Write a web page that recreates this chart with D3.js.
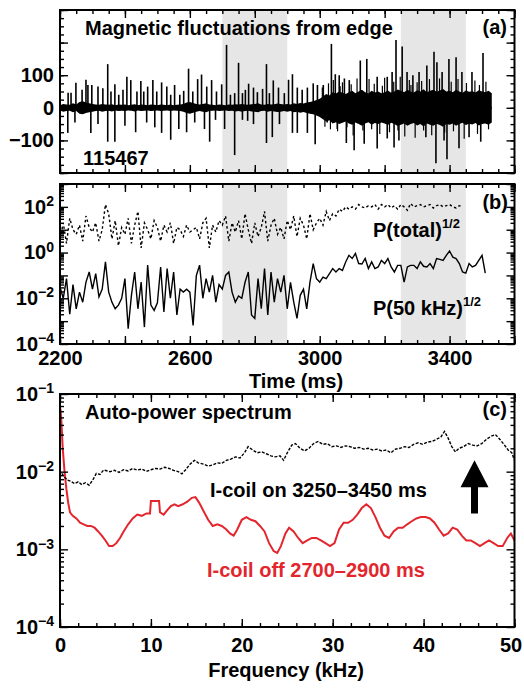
<!DOCTYPE html>
<html>
<head>
<meta charset="utf-8">
<script src="https://cdn.jsdelivr.net/npm/d3@7"></script>
<style>
  body { margin: 0; background: #fff; }
  svg { display: block; }
  text { font-family: "Liberation Sans", Arial, Helvetica, sans-serif; font-weight: bold; }
</style>
</head>
<body>
<div id="chart"></div>
<script>
// ---- data ----
// shaded time windows (ms)
const bandStart = [2700, 3250];
const bandEnd = [2900, 3450];

// (a) magnetic fluctuation spikes (time ms, amplitude)
const upTime = [2225, 2234, 2249, 2268, 2280, 2286, 2298, 2317, 2332, 2347, 2357, 2369, 2381, 2394, 2406, 2418, 2437, 2449, 2458, 2470,
  2486, 2498, 2513, 2529, 2541, 2553, 2569, 2581, 2596, 2609, 2624, 2636, 2652, 2667, 2682, 2698, 2713, 2725, 2738, 2750,
  2762, 2771, 2781, 2796, 2808, 2824, 2836, 2845, 2857, 2873, 2891, 2904, 2916, 2931, 2946, 2962, 2980, 2993, 3011, 3036,
  3048, 3060, 3076, 3091, 3125, 3145, 3177, 3208, 3223, 3235, 3254, 3269, 3287, 3306, 3330, 3352, 3361, 3377, 3398, 3420,
  3438, 3469, 3503];
const upValue = [46, 46, 77, 55, 86, 70, 70, 65, 60, 134, 50, 72, 40, 55, 95, 85, 50, 82, 50, 65,
  85, 50, 78, 65, 40, 70, 40, 52, 120, 50, 88, 102, 65, 85, 50, 72, 193, 40, 45, 138,
  45, 55, 74, 62, 48, 58, 134, 45, 84, 62, 45, 86, 103, 62, 55, 62, 75, 70, 70, 196,
  103, 100, 90, 85, 145, 150, 95, 95, 110, 208, 188, 110, 100, 110, 130, 172, 140, 110, 150, 155,
  110, 110, 168];
const downTime = [2224, 2246, 2295, 2317, 2347, 2369, 2400, 2433, 2467, 2492, 2513, 2541, 2566, 2590, 2615,
  2645, 2661, 2679, 2707, 2738, 2762, 2778, 2796, 2836, 2854, 2876, 2916, 2931, 2962, 2986,
  3023, 3054, 3082, 3106, 3137, 3177, 3208, 3229, 3244, 3327, 3358, 3383, 3392, 3429, 3460, 3496];
const downValue = [-77, -45, -77, -50, -104, -104, -55, -75, -45, -60, -77, -98, -65, -75, -45,
  -65, -104, -37, -65, -145, -37, -40, -50, -108, -90, -50, -77, -77, -77, -112,
  -45, -65, -108, -130, -110, -125, -94, -122, -100, -90, -170, -100, -158, -124, -90, -104];
// smaller bursts sticking out of the dense band after 3000 ms
const burstTime = [3008, 3016, 3027, 3033, 3042, 3055, 3063, 3070, 3084, 3097, 3103, 3115, 3133, 3152, 3160,
  3168, 3185, 3193, 3200, 3215, 3228, 3241, 3248, 3262, 3276, 3281, 3294, 3300, 3314, 3320,
  3338, 3345, 3369, 3385, 3405, 3412, 3426, 3445, 3452, 3478, 3486, 3492, 3512, 3520];
const burstValue = [62, -58, 75, -66, 85, -72, 66, 78, -60, 72, -85, 90, -70, 88, -66,
  74, -80, 68, 92, -75, 80, -70, 95, -88, 85, 70, -92, 78, 82, -70,
  88, -84, 90, -76, 80, -72, 88, -95, 76, 84, -80, 70, 80, -66];
// envelope of the dense background signal, every 10 ms from 2200
const noiseStart = 2200;
const noiseAmp = [8, 12, 10, 9, 14, 10, 18, 20, 16, 14,
  12, 10, 9, 12, 10, 9, 11, 8, 10, 9,
  10, 8, 9, 11, 8, 10, 9, 8, 10, 9,
  8, 10, 9, 8, 10, 8, 9, 10, 12, 16,
  18, 15, 12, 10, 12, 14, 10, 9, 8, 10,
  9, 8, 10, 9, 11, 10, 12, 10, 9, 11,
  12, 14, 10, 9, 12, 10, 11, 13, 12, 10,
  12, 10, 14, 12, 15, 13, 16, 18, 20, 24,
  28, 35, 42, 38, 48, 44, 50, 46, 42, 48,
  52, 45, 50, 55, 48, 44, 52, 47, 50, 45,
  48, 53, 46, 50, 56, 52, 48, 55, 50, 47,
  54, 50, 57, 48, 52, 55, 49, 53, 58, 50,
  52, 48, 55, 50, 46, 53, 49, 51, 47, 54,
  50, 48, 52, 45];

// (b) log10 of P(total)^1/2 and P(50 kHz)^1/2, every 10 ms from 2200
const powerStart = 2200;
const pTotalExp = [0.6, 1.3, 0.4, 1.5, 1.0, 0.8, 1.2, 0.5, 1.6, 1.1,
  0.9, 1.3, 0.5, 1.0, 2.1, 1.7, 0.6, 1.4, 0.3, 1.1,
  0.8, 1.5, 0.4, 1.2, 1.8, 0.2, 1.3, 1.0, 0.6, 1.4,
  1.1, 0.5, 1.2, 0.9, 1.3, 0.4, 1.1, 1.0, 0.7, 1.2,
  0.9, 1.0, 1.1, 0.6, 1.3, 1.5, 0.2, 1.2, 0.9, 1.4,
  1.2, 1.6, 0.5, 1.3, 0.9, 1.4, 0.6, 1.7, 1.0, 0.4,
  1.3, 0.7, 1.1, 1.8, 0.5, 1.2, 1.5, 0.8, 1.1, 0.6,
  1.4, 1.0, 1.6, 0.7, 1.5, 1.2, 0.6, 1.7, 1.0, 1.3,
  1.5, 1.2, 1.8, 1.4, 1.7, 1.6, 1.9, 1.8, 2.0, 1.9,
  2.0, 1.9, 2.1, 2.0, 1.95, 2.05, 2.0, 2.1, 1.9, 2.1,
  2.0, 2.1, 1.95, 2.05, 1.9, 2.1, 2.0, 1.85, 2.15, 2.0,
  2.05, 2.1, 2.0, 2.05, 2.1, 1.95, 2.05, 2.1, 2.0, 2.05,
  2.1, 2.0, 1.95, 2.05, 2.0];
const p50Exp = [-1.5, -2.0, -1.14, -2.7, -1.4, -2.46, -1.73, -2.17, -1.29, -0.85,
  -1.6, -0.92, -1.94, -1.6, -0.41, -1.73, -2.17, -2.46, -2.3, -2.0,
  -1.14, -3.33, -1.87, -0.85, -2.46, -1.29, -3.26, -0.55, -2.3, -2.53,
  -2.2, -0.63, -2.6, -0.7, -2.0, -0.85, -2.73, -1.6, -1.73, -1.6,
  -1.73, -3.19, -1.0, -0.55, -2.0, -1.14, -1.73, -1.0, -2.17, -1.4,
  -1.6, -1.0, -0.85, -1.73, -2.17, -1.9, -2.0, -1.3, -0.85, -2.73,
  -2.88, -1.14, -2.46, -0.7, -2.73, -0.85, -2.17, -1.14, -1.73, -1.0,
  -2.46, -1.3, -2.17, -2.88, -1.87, -1.6, -2.46, -1.29, -0.48, -1.14,
  -1.29, -1.07, -1.14, -0.92, -0.7, -0.85, -0.7, -0.78, -0.41, -0.12,
  -0.26, -0.04, -0.48, -0.5, -0.26, -0.7, -0.41, -0.7, -0.63, -0.34,
  -0.48, -0.26, -0.63, -0.85, -0.56, -0.56, -1.29, -0.63, -0.56, -0.56,
  -0.7, -0.41, -0.6, -0.63, -0.48, -0.7, -0.26, -0.3, -0.34, -0.12,
  0.07, -0.2, -0.26, -0.48, -0.85, -0.9, -0.48, -0.63, -0.56, -0.34,
  -0.12, -0.9];

// (c) auto-power spectra (kHz, power)
const onFreq = [0.2, 0.5, 0.8, 1.2, 1.6, 2.0, 2.4, 2.8, 3.2, 3.6, 4.0, 4.4, 4.8, 5.5, 6.0, 6.5, 7.0, 7.5, 8.0, 8.5,
  9.0, 9.5, 10.0, 10.5, 11.0, 11.5, 12.0, 12.5, 13.0, 13.4, 13.8, 14.3, 14.8, 15.2, 15.8, 16.3, 16.8, 17.3, 17.8, 18.3,
  18.8, 19.3, 19.8, 20.3, 20.7, 21.2, 21.7, 22.2, 22.7, 23.2, 23.7, 24.2, 24.6, 25.0, 25.5, 25.9, 26.4, 26.9, 27.4, 27.9,
  28.4, 28.9, 29.4, 29.9, 30.4, 30.9, 31.4, 31.9, 32.4, 32.9, 33.4, 33.9, 34.4, 34.9, 35.4, 35.9, 36.4, 36.9, 37.4, 37.9,
  38.4, 38.9, 39.4, 39.9, 40.4, 40.9, 41.4, 41.9, 42.3, 42.7, 43.1, 43.5, 43.9, 44.4, 44.9, 45.4, 45.9, 46.4, 46.9, 47.4,
  47.9, 48.4, 48.9, 49.3, 49.7, 50.0];
const onPower = [0.0095, 0.0085, 0.0078, 0.0075, 0.0070, 0.0074, 0.0068, 0.0072, 0.0067, 0.0078, 0.0095, 0.0092, 0.0105, 0.0100, 0.0104, 0.0098, 0.0106, 0.0102, 0.0110, 0.0105,
  0.0108, 0.0101, 0.0106, 0.0110, 0.0108, 0.0114, 0.0110, 0.0104, 0.0100, 0.0094, 0.0105, 0.0125, 0.0140, 0.0130, 0.0125, 0.0118, 0.0122, 0.0130, 0.0128, 0.0140,
  0.0145, 0.0155, 0.0150, 0.0175, 0.0210, 0.0190, 0.0175, 0.0180, 0.0170, 0.0160, 0.0155, 0.0160, 0.0140, 0.0175, 0.0220, 0.0230, 0.0200, 0.0185, 0.0200, 0.0230,
  0.0245, 0.0225, 0.0230, 0.0210, 0.0215, 0.0205, 0.0215, 0.0210, 0.0200, 0.0205, 0.0195, 0.0200, 0.0190, 0.0195, 0.0185, 0.0190, 0.0175, 0.0195, 0.0200, 0.0210,
  0.0205, 0.0225, 0.0235, 0.0225, 0.0240, 0.0245, 0.0260, 0.0280, 0.0330, 0.0270, 0.0210, 0.0180, 0.0200, 0.0210, 0.0230, 0.0220, 0.0215, 0.0230, 0.0260, 0.0285,
  0.0300, 0.0260, 0.0220, 0.0190, 0.0175, 0.0140];
const offFreq = [0.05, 0.15, 0.3, 0.5, 0.7, 0.9, 1.1, 1.4, 1.8, 2.2, 2.6, 3.0, 3.4, 3.8, 4.2, 4.6, 5.0, 5.4, 5.8, 6.2,
  6.6, 7.0, 7.5, 8.0, 8.5, 9.0, 9.5, 9.9, 10.0, 10.5, 10.9, 11.0, 11.4, 11.8, 12.2, 12.6, 13.0, 13.5, 14.0, 14.5,
  14.9, 15.3, 15.8, 16.3, 16.8, 17.3, 17.8, 18.3, 18.7, 19.1, 19.5, 20.0, 20.5, 21.0, 21.5, 22.0, 22.5, 23.0, 23.5, 23.9,
  24.3, 24.8, 25.2, 25.7, 26.2, 26.7, 27.2, 27.7, 28.2, 28.7, 29.2, 29.7, 30.2, 30.7, 31.2, 31.7, 32.2, 32.7, 33.2, 33.7,
  34.2, 34.7, 35.2, 35.7, 36.2, 36.7, 37.2, 37.7, 38.2, 38.7, 39.2, 39.7, 40.2, 40.7, 41.2, 41.7, 42.2, 42.7, 43.2, 43.7,
  44.2, 44.7, 45.2, 45.7, 46.2, 46.7, 47.2, 47.7, 48.2, 48.7, 49.2, 49.6, 50.0];
const offPower = [0.065, 0.045, 0.020, 0.010, 0.0060, 0.0040, 0.0030, 0.0027, 0.0025, 0.0022, 0.0021, 0.0020, 0.0020, 0.0019, 0.0017, 0.0015, 0.0013, 0.0011, 0.0011, 0.0012,
  0.0014, 0.0017, 0.0021, 0.0025, 0.0028, 0.0027, 0.0029, 0.0029, 0.0042, 0.0042, 0.0042, 0.0030, 0.0028, 0.0032, 0.0036, 0.0038, 0.0036, 0.0038, 0.0041, 0.0046,
  0.0047, 0.0040, 0.0031, 0.0024, 0.0020, 0.0021, 0.0020, 0.0018, 0.0016, 0.0015, 0.0018, 0.0024, 0.0026, 0.0024, 0.0023, 0.0020, 0.0017, 0.0012, 0.00095, 0.00090,
  0.0011, 0.0016, 0.0019, 0.0017, 0.0014, 0.0012, 0.0013, 0.0014, 0.0014, 0.0013, 0.0012, 0.0011, 0.0012, 0.0018, 0.0022, 0.0022, 0.0024, 0.0028, 0.0034, 0.0038,
  0.0034, 0.0026, 0.0019, 0.0015, 0.0014, 0.0017, 0.0019, 0.0019, 0.0021, 0.0023, 0.0025, 0.0026, 0.0026, 0.0025, 0.0022, 0.0018, 0.0015, 0.0016, 0.0019, 0.0018,
  0.0015, 0.0013, 0.0013, 0.0012, 0.0011, 0.0012, 0.0013, 0.0012, 0.0011, 0.0011, 0.0014, 0.0016, 0.0013];

// ---- layout ----
const width = 524, height = 688;
const left = 60, right = 514.5;
const red = "#e3262d";
const gray = "#e6e6e6";

const svg = d3.select("#chart").append("svg")
  .attr("width", width)
  .attr("height", height);

const x = d3.scaleLinear().domain([2200, 3600]).range([left, right]);
const yA = d3.scaleLinear().domain([-200, 300]).range([173, 10]);
const yB = d3.scaleLog().domain([1e-4, 1e3]).range([344, 184]);
const xC = d3.scaleLinear().domain([0, 50]).range([left, right]);
const yC = d3.scaleLog().domain([1e-4, 1e-1]).range([627, 394]);

function logMinor(lo, hi) {
  const out = [];
  for (let e = lo; e < hi; e++) {
    for (let k = 2; k <= 9; k++) out.push(k * Math.pow(10, e));
  }
  return out;
}
function decades(lo, hi) {
  return d3.range(lo, hi + 1).map(e => Math.pow(10, e));
}

// inward tick marks on all four sides of a panel
function frameTicks(sx, sy, top, bottom, xMajor, xMinor, yMajor, yMinor) {
  const g = svg.append("g");
  const sides = [
    [d3.axisBottom(sx), `translate(0,${bottom})`, xMajor, xMinor],
    [d3.axisTop(sx), `translate(0,${top})`, xMajor, xMinor],
    [d3.axisLeft(sy), `translate(${left},0)`, yMajor, yMinor],
    [d3.axisRight(sy), `translate(${right},0)`, yMajor, yMinor]
  ];
  sides.forEach(([axis, tr, major, minor]) => {
    [[major, 8], [minor, 4]].forEach(([vals, len]) => {
      g.append("g")
        .attr("transform", tr)
        .call(axis.tickValues(vals).tickSize(-len).tickFormat(""))
        .call(s => s.select(".domain").remove())
        .selectAll("line").attr("stroke-width", 1.4);
    });
  });
}

function tickLabels(axis, tr, vals, fmt, pad) {
  const g = svg.append("g")
    .attr("transform", tr)
    .call(axis.tickValues(vals).tickSize(0).tickPadding(pad).tickFormat(fmt))
    .call(s => s.select(".domain").remove());
  g.attr("font-size", 20).attr("font-family", null);
  g.selectAll("text").attr("fill", "#000");
  return g;
}

function powerLabels(g) {
  g.selectAll("text").each(function(d) {
    const t = d3.select(this);
    const e = Math.round(Math.log10(d));
    t.text("");
    t.append("tspan").text("10");
    t.append("tspan").attr("dy", "-0.55em").attr("font-size", 14)
      .text(e < 0 ? "\u2212" + (-e) : e);
  });
}

function bands(sy0, sy1) {
  bandStart.forEach((s, i) => {
    svg.append("rect")
      .attr("x", x(s))
      .attr("width", x(bandEnd[i]) - x(s))
      .attr("y", sy1)
      .attr("height", sy0 - sy1)
      .attr("fill", gray);
  });
}

function frame(top, bottom) {
  svg.append("rect")
    .attr("x", left).attr("y", top)
    .attr("width", right - left).attr("height", bottom - top)
    .attr("fill", "none").attr("stroke", "#000").attr("stroke-width", 2);
}

const xMajorT = d3.range(2200, 3601, 200);
const xMinorT = d3.range(2200, 3601, 50);

// ---- panel (a) ----
bands(173, 10);

const noise = noiseAmp.map((a, i) => ({ t: noiseStart + i * 10, a: a }));
svg.append("path")
  .datum(noise)
  .attr("fill", "#000")
  .attr("d", d3.area().x(d => x(d.t)).y0(d => yA(-d.a)).y1(d => yA(d.a)));

svg.append("line")
  .attr("x1", x(noiseStart)).attr("x2", x(noiseStart + (noiseAmp.length - 1) * 10))
  .attr("y1", yA(0)).attr("y2", yA(0))
  .attr("stroke", "#000").attr("stroke-width", 2);

const spikes = upTime.map((t, i) => ({ t: t, v: upValue[i], w: 1.6 }))
  .concat(downTime.map((t, i) => ({ t: t, v: downValue[i], w: 1.6 })))
  .concat(burstTime.map((t, i) => ({ t: t, v: burstValue[i], w: 1.2 })));
svg.append("g").selectAll("line")
  .data(spikes)
  .join("line")
  .attr("x1", d => x(d.t)).attr("x2", d => x(d.t))
  .attr("y1", yA(0)).attr("y2", d => yA(d.v))
  .attr("stroke", "#000").attr("stroke-width", d => d.w);

frameTicks(x, yA, 10, 173, xMajorT, xMinorT, d3.range(-200, 301, 100), d3.range(-200, 301, 25));
tickLabels(d3.axisLeft(yA), `translate(${left},0)`, [-100, 0, 100],
  d => d < 0 ? "\u2212" + (-d) : d, 6);
frame(10, 173);

svg.append("text").attr("x", 85).attr("y", 35).attr("font-size", 20)
  .text("Magnetic fluctuations from edge");
svg.append("text").attr("x", 507).attr("y", 34).attr("font-size", 20)
  .attr("text-anchor", "end").text("(a)");
svg.append("text").attr("x", 83).attr("y", 165).attr("font-size", 20)
  .text("115467");

// ---- panel (b) ----
bands(344, 184);

const pTotal = pTotalExp.map((e, i) => ({ t: powerStart + i * 10, v: Math.pow(10, e) }));
const p50 = p50Exp.map((e, i) => ({ t: powerStart + i * 10, v: Math.pow(10, e) }));
const lineB = d3.line().x(d => x(d.t)).y(d => yB(d.v));

svg.append("path").datum(pTotal)
  .attr("fill", "none").attr("stroke", "#000").attr("stroke-width", 1.4)
  .attr("stroke-dasharray", "2.5,2.5")
  .attr("d", lineB);
svg.append("path").datum(p50)
  .attr("fill", "none").attr("stroke", "#000").attr("stroke-width", 1.4)
  .attr("d", lineB);

frameTicks(x, yB, 184, 344, xMajorT, xMinorT, decades(-4, 3), logMinor(-4, 3));
powerLabels(tickLabels(d3.axisLeft(yB), `translate(${left},0)`, [1e-4, 1e-2, 1, 1e2], d => d, 6));
tickLabels(d3.axisBottom(x), `translate(0,344)`, [2200, 2600, 3000, 3400], d => d, 7);
frame(184, 344);

svg.append("text").attr("x", 508).attr("y", 209).attr("font-size", 20)
  .attr("text-anchor", "end").text("(b)");
const lt = svg.append("text").attr("x", 373).attr("y", 237).attr("font-size", 20);
lt.append("tspan").text("P(total)");
lt.append("tspan").attr("dy", -9).attr("font-size", 13).text("1/2");
const l50 = svg.append("text").attr("x", 373).attr("y", 315).attr("font-size", 20);
l50.append("tspan").text("P(50 kHz)");
l50.append("tspan").attr("dy", -9).attr("font-size", 13).text("1/2");
svg.append("text").attr("x", 296).attr("y", 388).attr("font-size", 20)
  .attr("text-anchor", "middle").text("Time (ms)");

// ---- panel (c) ----
const onSpec = onFreq.map((f, i) => ({ f: f, v: onPower[i] }));
const offSpec = offFreq.map((f, i) => ({ f: f, v: offPower[i] }));
const lineC = d3.line().x(d => xC(d.f)).y(d => yC(d.v));

svg.append("path").datum(offSpec)
  .attr("fill", "none").attr("stroke", red).attr("stroke-width", 2)
  .attr("d", lineC);
svg.append("path").datum(onSpec)
  .attr("fill", "none").attr("stroke", "#000").attr("stroke-width", 1.4)
  .attr("stroke-dasharray", "3,1.5")
  .attr("d", lineC);

frameTicks(xC, yC, 394, 627, d3.range(0, 51, 10), d3.range(0, 51, 2), decades(-4, -1), logMinor(-4, -1));
powerLabels(tickLabels(d3.axisLeft(yC), `translate(${left},0)`, decades(-4, -1), d => d, 6));
tickLabels(d3.axisBottom(xC), `translate(0,627)`, d3.range(0, 51, 10), d => d, 11)
  .selectAll("text").filter(d => d === 50).attr("dx", -4);
frame(394, 627);

svg.append("text").attr("x", 85).attr("y", 419).attr("font-size", 20)
  .text("Auto-power spectrum");
svg.append("text").attr("x", 507).attr("y", 416).attr("font-size", 20)
  .attr("text-anchor", "end").text("(c)");
svg.append("text").attr("x", 210).attr("y", 497).attr("font-size", 20)
  .text("I-coil on 3250\u20133450 ms");
svg.append("text").attr("x", 207).attr("y", 577).attr("font-size", 20)
  .attr("fill", red).text("I-coil off 2700\u20132900 ms");
svg.append("text").attr("x", 286).attr("y", 677).attr("font-size", 20)
  .attr("text-anchor", "middle").text("Frequency (kHz)");

// arrow pointing up from the I-coil off level
const ax = xC(45.6), tipY = yC(0.014), baseY = yC(0.0063), tailY = yC(0.0029);
svg.append("path")
  .attr("d", `M${ax},${tipY} L${ax + 14},${baseY} L${ax + 3.5},${baseY} L${ax + 3.5},${tailY}
    L${ax - 3.5},${tailY} L${ax - 3.5},${baseY} L${ax - 14},${baseY} Z`)
  .attr("fill", "#000");
</script>
</body>
</html>
